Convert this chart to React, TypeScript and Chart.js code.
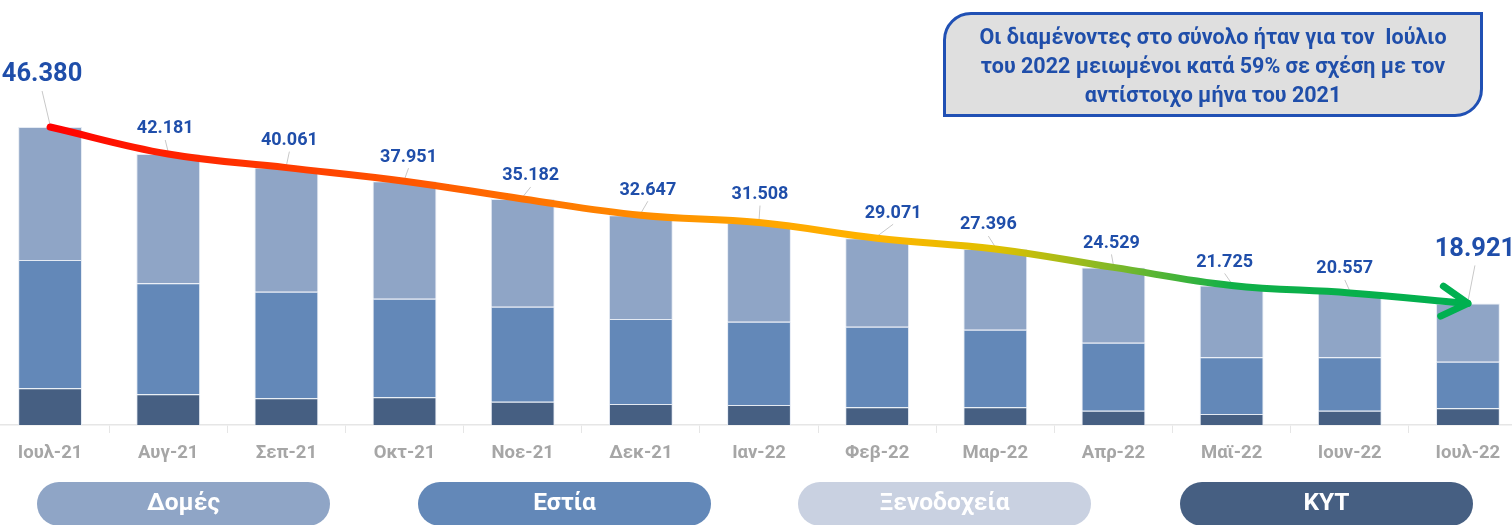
import React, { useEffect, useRef } from "react";
import { Chart, registerables } from "chart.js";

Chart.register(...registerables);

const months = ["Ιουλ-21", "Αυγ-21", "Σεπ-21", "Οκτ-21", "Νοε-21", "Δεκ-21", "Ιαν-22", "Φεβ-22", "Μαρ-22", "Απρ-22", "Μαϊ-22", "Ιουν-22", "Ιουλ-22"];
const totals = [46380, 42181, 40061, 37951, 35182, 32647, 31508, 29071, 27396, 24529, 21725, 20557, 18921];
const kyt = [5710, 4780, 4160, 4310, 3630, 3270, 3110, 2760, 2750, 2230, 1710, 2230, 2600];
const estia = [19970, 17270, 16590, 15350, 14780, 13230, 12970, 12540, 12080, 10580, 8830, 8310, 7250];
const xenodoxeia = [0, 0, 0, 0, 0, 0, 0, 0, 0, 0, 0, 0, 0];
const domes = [20700, 20131, 19311, 18291, 16772, 16147, 15428, 13771, 12566, 11719, 11185, 10017, 9071];

const legendNames = ["Δομές", "Εστία", "Ξενοδοχεία", "ΚΥΤ"];
const noteLines = [
  "Οι διαμένοντες στο σύνολο ήταν για τον  Ιούλιο",
  "του 2022 μειωμένοι κατά 59% σε σχέση με τον",
  "αντίστοιχο μήνα του 2021",
];

// styling / layout (not data)
const COLORS = { domes: "#8FA5C6", estia: "#6388B8", xen: "#C9D1E1", kyt: "#465F82" };
const legendColors = [COLORS.domes, COLORS.estia, COLORS.xen, COLORS.kyt];
const legendLefts = [37, 418, 798, 1180];
const labelOffsets: [number, number][] = [
  [-8, -52], [-3, -25], [3, -27], [4, -24], [8, -23], [7, -25], [1, -28],
  [16, -25], [-7, -24], [-2, -24], [-7, -23], [-5, -24], [7, -54],
];
const gradientStops: [number, string][] = [
  [0, "#FF0000"], [1 / 12, "#FF2200"], [3 / 12, "#FF5500"], [5 / 12, "#FF8C00"],
  [6 / 12, "#FFA500"], [7 / 12, "#FFB400"], [8 / 12, "#E0C000"], [9 / 12, "#80B828"],
  [10 / 12, "#10B048"], [1, "#00B050"],
];

const FONT = "Roboto, 'Noto Sans', sans-serif";
const LABEL_COLOR = "#1F4EAA";

function fmt(v: number): string {
  const th = Math.floor(v / 1000);
  const rest = String(v % 1000).padStart(3, "0");
  return th > 0 ? `${th}.${rest}` : String(v);
}

const overlayPlugin = {
  id: "overlay",
  beforeDatasetDraw(chart: any, args: any) {
    if (args.index !== 4) return;
    const ctx = chart.ctx;
    const pts = chart.getDatasetMeta(4).data;
    ctx.save();
    ctx.strokeStyle = "#C8C8C8";
    ctx.lineWidth = 1;
    pts.forEach((p: any, i: number) => {
      const big = i === 0 || i === pts.length - 1;
      const [dx, dy] = labelOffsets[i];
      const lx = p.x + dx;
      const ly = p.y + dy + (big ? 16 : 11);
      ctx.beginPath();
      ctx.moveTo(lx, ly);
      ctx.lineTo(p.x, p.y - 2);
      ctx.stroke();
    });
    ctx.restore();
  },
  afterDatasetsDraw(chart: any) {
    const ctx = chart.ctx;
    const pts = chart.getDatasetMeta(4).data;
    const last = pts[pts.length - 1];
    const prev = pts[pts.length - 2];
    const cx = last.cp1x !== undefined ? last.cp1x : prev.x;
    const cy = last.cp1y !== undefined ? last.cp1y : prev.y;
    const ang = Math.atan2(last.y - cy, last.x - cx);
    ctx.save();
    ctx.strokeStyle = "#00B050";
    ctx.lineWidth = 7;
    ctx.lineCap = "round";
    ctx.lineJoin = "round";
    const len = 30;
    const spread = (30 * Math.PI) / 180;
    ctx.beginPath();
    ctx.moveTo(last.x - len * Math.cos(ang - spread), last.y - len * Math.sin(ang - spread));
    ctx.lineTo(last.x, last.y);
    ctx.lineTo(last.x - len * Math.cos(ang + spread), last.y - len * Math.sin(ang + spread));
    ctx.stroke();
    ctx.restore();

    ctx.save();
    ctx.fillStyle = LABEL_COLOR;
    ctx.textAlign = "center";
    ctx.textBaseline = "middle";
    pts.forEach((p: any, i: number) => {
      const big = i === 0 || i === pts.length - 1;
      const [dx, dy] = labelOffsets[i];
      ctx.font = `bold ${big ? 25.5 : 18}px ${FONT}`;
      ctx.fillText(fmt(totals[i]), p.x + dx, p.y + dy);
    });
    ctx.restore();
  },
};

function ChartView() {
  const ref = useRef<HTMLCanvasElement | null>(null);
  useEffect(() => {
    if (!ref.current) return;
    const barCommon = {
      type: "bar" as const,
      borderColor: "rgba(225,232,242,0.9)",
      borderWidth: 1,
      barPercentage: 0.54,
      categoryPercentage: 1,
      order: 1,
      stack: "s",
    };
    const chart = new Chart(ref.current, {
      type: "bar",
      data: {
        labels: months,
        datasets: [
          { ...barCommon, label: "ΚΥΤ", data: kyt, backgroundColor: COLORS.kyt },
          { ...barCommon, label: "Εστία", data: estia, backgroundColor: COLORS.estia },
          { ...barCommon, label: "Ξενοδοχεία", data: xenodoxeia, backgroundColor: COLORS.xen },
          { ...barCommon, label: "Δομές", data: domes, backgroundColor: COLORS.domes },
          {
            type: "line" as const,
            label: "Σύνολο",
            data: totals,
            order: 0,
            stack: "total",
            borderWidth: 7,
            tension: 0.4,
            pointRadius: 0,
            clip: false as any,
            borderCapStyle: "round",
            borderColor: (c: any) => {
              const ch = c.chart;
              if (!ch.chartArea || !ch.scales.x) return "#FF0000";
              const x0 = ch.scales.x.getPixelForValue(0);
              const x1 = ch.scales.x.getPixelForValue(months.length - 1);
              const g = ch.ctx.createLinearGradient(x0, 0, x1, 0);
              gradientStops.forEach(([o, col]) => g.addColorStop(o, col));
              return g;
            },
          } as any,
        ],
      },
      options: {
        responsive: false,
        animation: false,
        layout: { padding: { top: 39.5, bottom: 60, left: 0, right: 0 } },
        plugins: { legend: { display: false }, tooltip: { enabled: false } },
        scales: {
          x: {
            stacked: true,
            offset: true,
            afterFit: (s: any) => {
              s.height = 40;
            },
            border: { color: "#E6E6E6", width: 1.5 },
            grid: { drawOnChartArea: false, drawTicks: true, tickLength: 8, color: "#E6E6E6", offset: true },
            ticks: {
              autoSkip: false,
              maxRotation: 0,
              padding: 9,
              color: "#A6A6A6",
              font: { family: FONT, size: 18.5, weight: "bold" },
            },
          },
          y: { stacked: true, display: false, min: 0, max: 60000 },
        },
      },
      plugins: [overlayPlugin],
    } as any);
    return () => chart.destroy();
  }, []);
  return (
    <canvas
      ref={ref}
      width={1536}
      height={525}
      style={{ position: "absolute", left: -9, top: 0, width: 1536, height: 525 }}
    />
  );
}

export default function App() {
  return (
    <div
      style={{
        position: "fixed",
        left: 0,
        top: 0,
        width: 1512,
        height: 525,
        overflow: "hidden",
        background: "#FFFFFF",
        fontFamily: FONT,
      }}
    >
      <ChartView />
      <div
        style={{
          position: "absolute",
          left: 943,
          top: 12,
          width: 540,
          height: 105,
          boxSizing: "border-box",
          border: "3px solid #2050B4",
          borderRadius: "28px 0 28px 0",
          background: "#DFDFDF",
          color: LABEL_COLOR,
          fontWeight: 700,
          fontSize: 21.5,
          lineHeight: "29px",
          textAlign: "center",
          paddingTop: 7,
          whiteSpace: "pre",
        }}
      >
        {noteLines.map((l, i) => (
          <div key={i}>{l}</div>
        ))}
      </div>
      {legendNames.map((n, i) => (
        <div
          key={n}
          style={{
            position: "absolute",
            left: legendLefts[i],
            top: 482,
            width: 293,
            height: 44,
            borderRadius: 22,
            background: legendColors[i],
            color: "#FFFFFF",
            fontWeight: 700,
            fontSize: 24.5,
            lineHeight: "40px",
            textAlign: "center",
          }}
        >
          {n}
        </div>
      ))}
    </div>
  );
}
